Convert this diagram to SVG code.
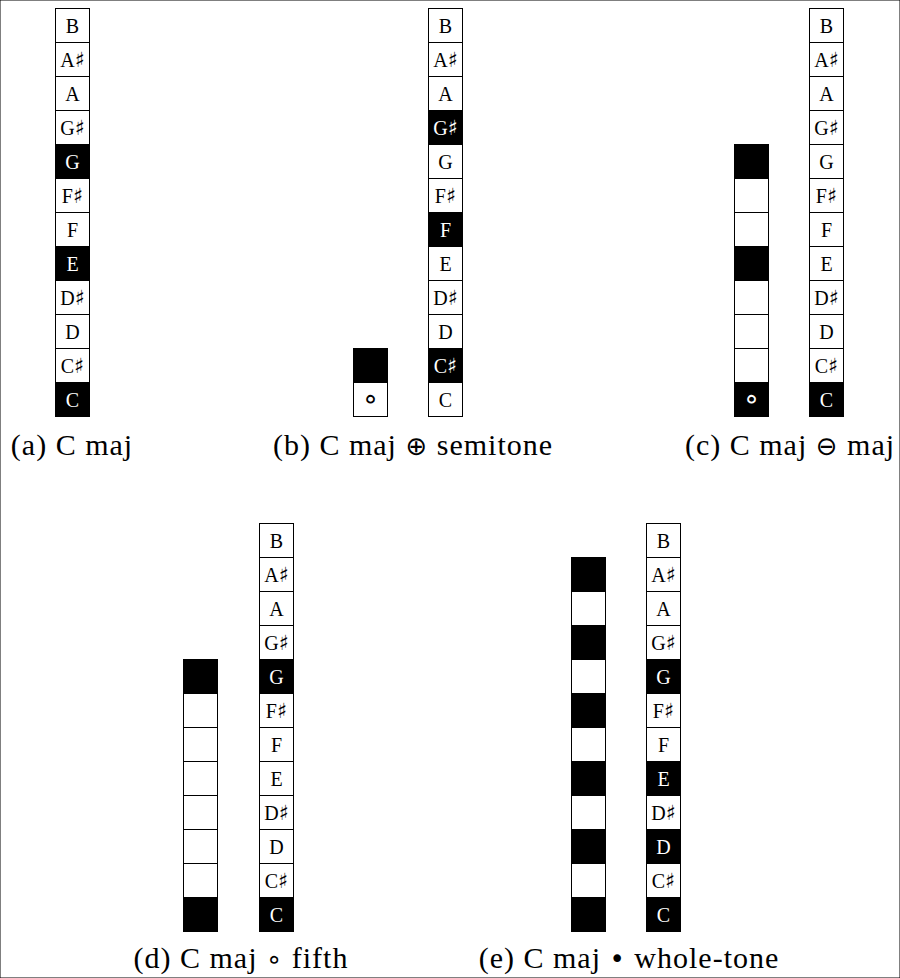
<svg xmlns="http://www.w3.org/2000/svg" width="900" height="978" viewBox="0 0 900 978">
<style>
rect{stroke:#000;stroke-width:1}
.w{fill:#fff}
.b{fill:#000}
text{font-family:'Liberation Serif','Times New Roman',Times,'DejaVu Serif','Noto Serif',serif;text-anchor:middle}
.l{font-size:20px;fill:#000}
.lw{font-size:20px;fill:#fff}
.s{font-family:'DejaVu Sans';font-size:21px}
.o{font-family:'DejaVu Sans';font-size:28px;fill:#000}
.ow{font-family:'DejaVu Sans';font-size:28px;fill:#fff}
.cap{font-size:30px;fill:#000;letter-spacing:1px}
.m{font-family:'DejaVu Sans';font-size:26px}
</style>
<rect x="0" y="0" width="900" height="978" fill="#fff" stroke="none"/>
<g id="col-a">
<rect class="w" x="55.5" y="8.5" width="34" height="34"/><text class="l" x="72.5" y="33">B</text>
<rect class="w" x="55.5" y="42.5" width="34" height="34"/><text class="l" x="72.5" y="67">A<tspan class="s">♯</tspan></text>
<rect class="w" x="55.5" y="76.5" width="34" height="34"/><text class="l" x="72.5" y="101">A</text>
<rect class="w" x="55.5" y="110.5" width="34" height="34"/><text class="l" x="72.5" y="135">G<tspan class="s">♯</tspan></text>
<rect class="b" x="55.5" y="144.5" width="34" height="34"/><text class="lw" x="72.5" y="169">G</text>
<rect class="w" x="55.5" y="178.5" width="34" height="34"/><text class="l" x="72.5" y="203">F<tspan class="s">♯</tspan></text>
<rect class="w" x="55.5" y="212.5" width="34" height="34"/><text class="l" x="72.5" y="237">F</text>
<rect class="b" x="55.5" y="246.5" width="34" height="34"/><text class="lw" x="72.5" y="271">E</text>
<rect class="w" x="55.5" y="280.5" width="34" height="34"/><text class="l" x="72.5" y="305">D<tspan class="s">♯</tspan></text>
<rect class="w" x="55.5" y="314.5" width="34" height="34"/><text class="l" x="72.5" y="339">D</text>
<rect class="w" x="55.5" y="348.5" width="34" height="34"/><text class="l" x="72.5" y="373">C<tspan class="s">♯</tspan></text>
<rect class="b" x="55.5" y="382.5" width="34" height="34"/><text class="lw" x="72.5" y="407">C</text>
</g>
<g id="col-b-small">
<rect class="b" x="353.5" y="348.5" width="34" height="34"/>
<rect class="w" x="353.5" y="382.5" width="34" height="34"/><text class="o" x="370.5" y="408">∘</text>
</g>
<g id="col-b">
<rect class="w" x="428.5" y="8.5" width="34" height="34"/><text class="l" x="445.5" y="33">B</text>
<rect class="w" x="428.5" y="42.5" width="34" height="34"/><text class="l" x="445.5" y="67">A<tspan class="s">♯</tspan></text>
<rect class="w" x="428.5" y="76.5" width="34" height="34"/><text class="l" x="445.5" y="101">A</text>
<rect class="b" x="428.5" y="110.5" width="34" height="34"/><text class="lw" x="445.5" y="135">G<tspan class="s">♯</tspan></text>
<rect class="w" x="428.5" y="144.5" width="34" height="34"/><text class="l" x="445.5" y="169">G</text>
<rect class="w" x="428.5" y="178.5" width="34" height="34"/><text class="l" x="445.5" y="203">F<tspan class="s">♯</tspan></text>
<rect class="b" x="428.5" y="212.5" width="34" height="34"/><text class="lw" x="445.5" y="237">F</text>
<rect class="w" x="428.5" y="246.5" width="34" height="34"/><text class="l" x="445.5" y="271">E</text>
<rect class="w" x="428.5" y="280.5" width="34" height="34"/><text class="l" x="445.5" y="305">D<tspan class="s">♯</tspan></text>
<rect class="w" x="428.5" y="314.5" width="34" height="34"/><text class="l" x="445.5" y="339">D</text>
<rect class="b" x="428.5" y="348.5" width="34" height="34"/><text class="lw" x="445.5" y="373">C<tspan class="s">♯</tspan></text>
<rect class="w" x="428.5" y="382.5" width="34" height="34"/><text class="l" x="445.5" y="407">C</text>
</g>
<g id="col-c-small">
<rect class="b" x="734.5" y="144.5" width="34" height="34"/>
<rect class="w" x="734.5" y="178.5" width="34" height="34"/>
<rect class="w" x="734.5" y="212.5" width="34" height="34"/>
<rect class="b" x="734.5" y="246.5" width="34" height="34"/>
<rect class="w" x="734.5" y="280.5" width="34" height="34"/>
<rect class="w" x="734.5" y="314.5" width="34" height="34"/>
<rect class="w" x="734.5" y="348.5" width="34" height="34"/>
<rect class="b" x="734.5" y="382.5" width="34" height="34"/><text class="ow" x="751.5" y="408">∘</text>
</g>
<g id="col-c">
<rect class="w" x="809.5" y="8.5" width="34" height="34"/><text class="l" x="826.5" y="33">B</text>
<rect class="w" x="809.5" y="42.5" width="34" height="34"/><text class="l" x="826.5" y="67">A<tspan class="s">♯</tspan></text>
<rect class="w" x="809.5" y="76.5" width="34" height="34"/><text class="l" x="826.5" y="101">A</text>
<rect class="w" x="809.5" y="110.5" width="34" height="34"/><text class="l" x="826.5" y="135">G<tspan class="s">♯</tspan></text>
<rect class="w" x="809.5" y="144.5" width="34" height="34"/><text class="l" x="826.5" y="169">G</text>
<rect class="w" x="809.5" y="178.5" width="34" height="34"/><text class="l" x="826.5" y="203">F<tspan class="s">♯</tspan></text>
<rect class="w" x="809.5" y="212.5" width="34" height="34"/><text class="l" x="826.5" y="237">F</text>
<rect class="w" x="809.5" y="246.5" width="34" height="34"/><text class="l" x="826.5" y="271">E</text>
<rect class="w" x="809.5" y="280.5" width="34" height="34"/><text class="l" x="826.5" y="305">D<tspan class="s">♯</tspan></text>
<rect class="w" x="809.5" y="314.5" width="34" height="34"/><text class="l" x="826.5" y="339">D</text>
<rect class="w" x="809.5" y="348.5" width="34" height="34"/><text class="l" x="826.5" y="373">C<tspan class="s">♯</tspan></text>
<rect class="b" x="809.5" y="382.5" width="34" height="34"/><text class="lw" x="826.5" y="407">C</text>
</g>
<g id="col-d-small">
<rect class="b" x="183.5" y="659.5" width="34" height="34"/>
<rect class="w" x="183.5" y="693.5" width="34" height="34"/>
<rect class="w" x="183.5" y="727.5" width="34" height="34"/>
<rect class="w" x="183.5" y="761.5" width="34" height="34"/>
<rect class="w" x="183.5" y="795.5" width="34" height="34"/>
<rect class="w" x="183.5" y="829.5" width="34" height="34"/>
<rect class="w" x="183.5" y="863.5" width="34" height="34"/>
<rect class="b" x="183.5" y="897.5" width="34" height="34"/>
</g>
<g id="col-d">
<rect class="w" x="259.5" y="523.5" width="34" height="34"/><text class="l" x="276.5" y="548">B</text>
<rect class="w" x="259.5" y="557.5" width="34" height="34"/><text class="l" x="276.5" y="582">A<tspan class="s">♯</tspan></text>
<rect class="w" x="259.5" y="591.5" width="34" height="34"/><text class="l" x="276.5" y="616">A</text>
<rect class="w" x="259.5" y="625.5" width="34" height="34"/><text class="l" x="276.5" y="650">G<tspan class="s">♯</tspan></text>
<rect class="b" x="259.5" y="659.5" width="34" height="34"/><text class="lw" x="276.5" y="684">G</text>
<rect class="w" x="259.5" y="693.5" width="34" height="34"/><text class="l" x="276.5" y="718">F<tspan class="s">♯</tspan></text>
<rect class="w" x="259.5" y="727.5" width="34" height="34"/><text class="l" x="276.5" y="752">F</text>
<rect class="w" x="259.5" y="761.5" width="34" height="34"/><text class="l" x="276.5" y="786">E</text>
<rect class="w" x="259.5" y="795.5" width="34" height="34"/><text class="l" x="276.5" y="820">D<tspan class="s">♯</tspan></text>
<rect class="w" x="259.5" y="829.5" width="34" height="34"/><text class="l" x="276.5" y="854">D</text>
<rect class="w" x="259.5" y="863.5" width="34" height="34"/><text class="l" x="276.5" y="888">C<tspan class="s">♯</tspan></text>
<rect class="b" x="259.5" y="897.5" width="34" height="34"/><text class="lw" x="276.5" y="922">C</text>
</g>
<g id="col-e-small">
<rect class="b" x="571.5" y="557.5" width="34" height="34"/>
<rect class="w" x="571.5" y="591.5" width="34" height="34"/>
<rect class="b" x="571.5" y="625.5" width="34" height="34"/>
<rect class="w" x="571.5" y="659.5" width="34" height="34"/>
<rect class="b" x="571.5" y="693.5" width="34" height="34"/>
<rect class="w" x="571.5" y="727.5" width="34" height="34"/>
<rect class="b" x="571.5" y="761.5" width="34" height="34"/>
<rect class="w" x="571.5" y="795.5" width="34" height="34"/>
<rect class="b" x="571.5" y="829.5" width="34" height="34"/>
<rect class="w" x="571.5" y="863.5" width="34" height="34"/>
<rect class="b" x="571.5" y="897.5" width="34" height="34"/>
</g>
<g id="col-e">
<rect class="w" x="646.5" y="523.5" width="34" height="34"/><text class="l" x="663.5" y="548">B</text>
<rect class="w" x="646.5" y="557.5" width="34" height="34"/><text class="l" x="663.5" y="582">A<tspan class="s">♯</tspan></text>
<rect class="w" x="646.5" y="591.5" width="34" height="34"/><text class="l" x="663.5" y="616">A</text>
<rect class="w" x="646.5" y="625.5" width="34" height="34"/><text class="l" x="663.5" y="650">G<tspan class="s">♯</tspan></text>
<rect class="b" x="646.5" y="659.5" width="34" height="34"/><text class="lw" x="663.5" y="684">G</text>
<rect class="w" x="646.5" y="693.5" width="34" height="34"/><text class="l" x="663.5" y="718">F<tspan class="s">♯</tspan></text>
<rect class="w" x="646.5" y="727.5" width="34" height="34"/><text class="l" x="663.5" y="752">F</text>
<rect class="b" x="646.5" y="761.5" width="34" height="34"/><text class="lw" x="663.5" y="786">E</text>
<rect class="w" x="646.5" y="795.5" width="34" height="34"/><text class="l" x="663.5" y="820">D<tspan class="s">♯</tspan></text>
<rect class="b" x="646.5" y="829.5" width="34" height="34"/><text class="lw" x="663.5" y="854">D</text>
<rect class="w" x="646.5" y="863.5" width="34" height="34"/><text class="l" x="663.5" y="888">C<tspan class="s">♯</tspan></text>
<rect class="b" x="646.5" y="897.5" width="34" height="34"/><text class="lw" x="663.5" y="922">C</text>
</g>
<g id="connectors"/>
<g id="captions">
<text class="cap" x="72" y="455">(a) C maj</text>
<text class="cap" x="413" y="455">(b) C maj <tspan class="m">⊕</tspan> semitone</text>
<text class="cap" x="790" y="455">(c) C maj <tspan class="m">⊖</tspan> maj</text>
<text class="cap" x="241" y="968">(d) C maj <tspan class="m">∘</tspan> fifth</text>
<text class="cap" x="629" y="968">(e) C maj <tspan class="m">•</tspan> whole-tone</text>
</g>
</svg>
